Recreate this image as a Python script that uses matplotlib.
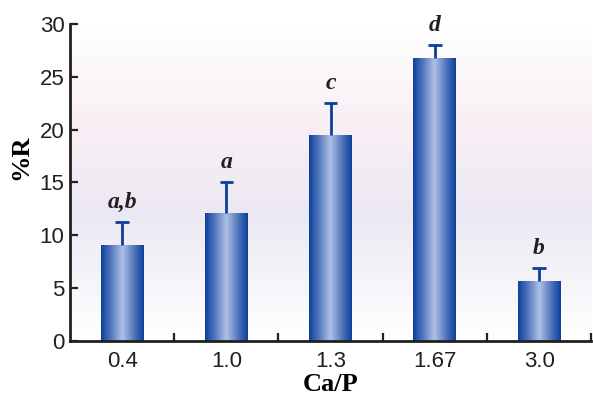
import numpy as np
import matplotlib
matplotlib.use("Agg")
import matplotlib.pyplot as plt
from matplotlib.colors import LinearSegmentedColormap

ratios = ["0.4", "1.0", "1.3", "1.67", "3.0"]
values = [9.1, 12.1, 19.5, 26.8, 5.7]
errors = [2.2, 2.9, 3.0, 1.2, 1.2]
letters = ["a,b", "a", "c", "d", "b"]

fig = plt.figure(figsize=(5.93, 3.98), dpi=100)
ax = fig.add_axes([0.118, 0.143, 0.879, 0.797])

x = np.arange(len(ratios))
w = 0.41
ax.set_xlim(-0.5, len(ratios) - 0.5)
ax.set_ylim(0, 30)

# background gradient (vertical)
bg = LinearSegmentedColormap.from_list(
    "bg", [(0, "#ffffff"), (0.4, "#ece8f3"), (0.7, "#f9f0f5"), (1.0, "#ffffff")])
grad = np.linspace(0, 1, 256).reshape(-1, 1)
ax.imshow(grad, cmap=bg, aspect="auto", origin="lower",
          extent=[-0.5, len(ratios) - 0.5, 0, 30], zorder=0)

# bars with horizontal gradient
barcm = LinearSegmentedColormap.from_list(
    "bar", ["#0a3f9a", "#5a7cc0", "#aec0e4", "#5a7cc0", "#0a3f9a"])
hgrad = np.linspace(0, 1, 256).reshape(1, -1)
bars = ax.bar(x, values, width=w, color="none", edgecolor="none", zorder=2)
for b in bars:
    x0, y0 = b.get_x(), b.get_y()
    im = ax.imshow(hgrad, cmap=barcm, aspect="auto",
                   extent=[x0, x0 + b.get_width(), y0, y0 + b.get_height()], zorder=2)
    im.set_clip_path(b)

# error bars: upper half only
tops = np.array(values) + np.array(errors)
ax.vlines(x, values, tops, color="#0a3f9a", lw=2, zorder=3)
ax.hlines(tops, x - 0.065, x + 0.065, color="#0a3f9a", lw=2, zorder=3)

for xi, t, lab in zip(x, tops, letters):
    ax.text(xi, t + 0.85, lab, ha="center", va="bottom", fontsize=17,
            family="Liberation Serif", style="italic", weight="bold", color="#231f20")

ax.set_xticks(x)
ax.set_xticklabels(ratios)
ax.set_xticks(np.arange(0.5, len(ratios), 1), minor=True)
ax.tick_params(axis="x", which="major", length=0, labelsize=16, pad=7, colors="#231f20")
ax.tick_params(axis="x", which="minor", direction="in", length=6, width=1.6, color="#231f20")
ax.set_yticks(range(0, 31, 5))
ax.tick_params(axis="y", direction="in", length=6, width=1.6, labelsize=16, pad=4, colors="#231f20")
for lab in ax.get_xticklabels() + ax.get_yticklabels():
    lab.set_family("Liberation Sans")

for s in ["top", "right"]:
    ax.spines[s].set_visible(False)
for s in ["left", "bottom"]:
    ax.spines[s].set_linewidth(2)
    ax.spines[s].set_color("#231f20")

ax.set_xlabel("Ca/P", fontsize=19, family="Liberation Serif", weight="bold", labelpad=1)
ax.set_ylabel("%R", fontsize=19, family="Liberation Serif", weight="bold")
ax.yaxis.set_label_coords(-0.072, 0.58)

fig.savefig("out.png", dpi=100)
